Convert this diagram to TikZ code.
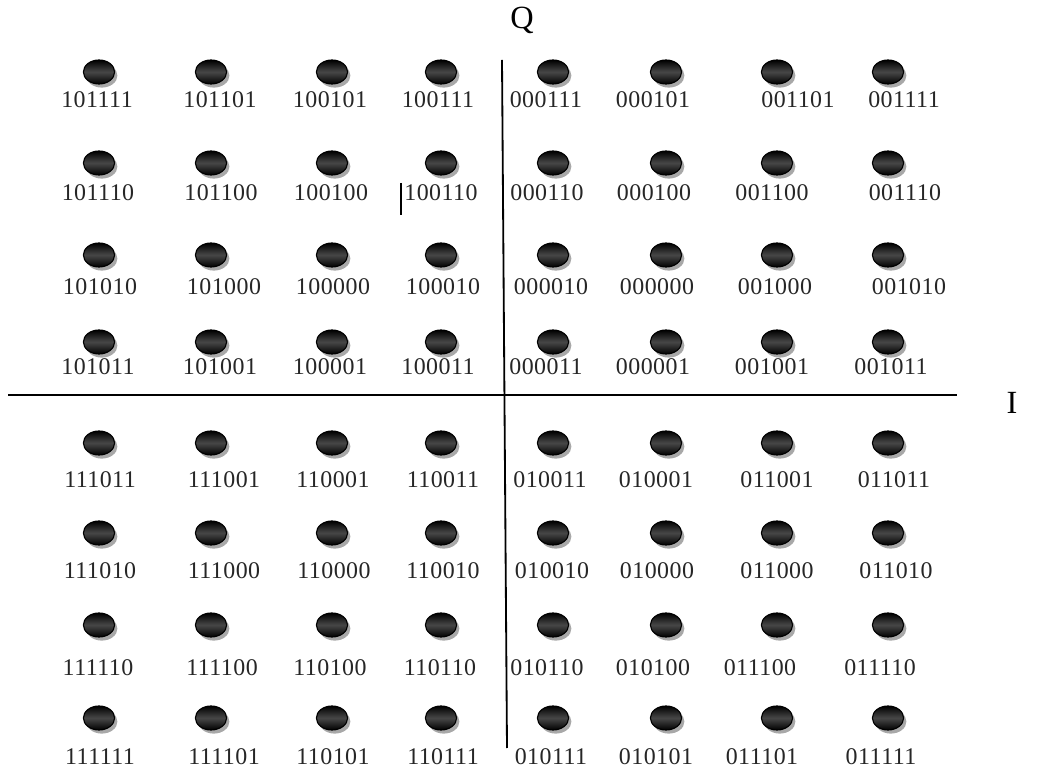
\documentclass[tikz,border=0pt]{standalone}
\usepackage{fontspec}
\setmainfont{Liberation Serif}
\newfontfamily\bitfont[LetterSpace=2]{Liberation Serif}
\usetikzlibrary{shapes.geometric, shadows}

\begin{document}
\begin{tikzpicture}[
  x=0.025cm, y=-0.025cm,
  symbol/.style={ellipse, draw=black, line width=0.8pt, inner sep=0pt,
                 minimum width=0.78cm, minimum height=0.6cm,
                 top color=black, bottom color=black, middle color=black!72,
                 drop shadow={shadow xshift=0.07cm, shadow yshift=-0.09cm, fill=gray!80, opacity=0.85}},
  bits/.style={font=\bitfont\fontsize{17}{18}\selectfont, inner sep=0pt, text=black!85},
  axis/.style={line width=1.3pt},
  axislabel/.style={font=\fontsize{23}{24}\selectfont, inner sep=0pt},
]
  \useasboundingbox (0,0) rectangle (1041,773);

  % axes
  \coordinate (qtop) at (502,60);
  \coordinate (qbot) at (507,748);
  \coordinate (ileft) at (8,395);
  \coordinate (iright) at (957,395);
  \draw[axis] (qtop) -- (qbot);
  \draw[axis] (ileft) -- (iright);
  \node[axislabel] (qlab) at (522,20) {Q};
  \node[axislabel] (ilab) at (1012,403) {I};

  % constellation points
  \foreach \dy [count=\r] in {72,163,255,342,443,533,625,718}
    \foreach \dx [count=\c] in {99,211,332,441,553,666,777,888}
      \node[symbol] (d\r-\c) at (\dx,\dy) {};

  % bit labels, row by row
  \foreach \b/\lx [count=\c] in {101111/97,101101/220,100101/330,100111/438,000111/546,000101/653,001101/798,001111/904}
    \node[bits] (l1-\c) at (\lx,100) {\b};
  \foreach \b/\lx [count=\c] in {101110/98,101100/221,100100/331,100110/441,000110/547,000100/654,001100/772,001110/905}
    \node[bits] (l2-\c) at (\lx,193) {\b};
  \foreach \b/\lx [count=\c] in {101010/100,101000/224,100000/333,100010/443,000010/551,000000/657,001000/775,001010/909}
    \node[bits] (l3-\c) at (\lx,287) {\b};
  \foreach \b/\lx [count=\c] in {101011/98,101001/220,100001/330,100011/438,000011/546,000001/653,001001/772,001011/891}
    \node[bits] (l4-\c) at (\lx,367) {\b};
  \foreach \b/\lx [count=\c] in {111011/100,111001/224,110001/333,110011/443,010011/550,010001/656,011001/777,011011/894}
    \node[bits] (l5-\c) at (\lx,480) {\b};
  \foreach \b/\lx [count=\c] in {111010/100,111000/224,110000/334,110010/443,010010/552,010000/657,011000/777,011010/896}
    \node[bits] (l6-\c) at (\lx,571) {\b};
  \foreach \b/\lx [count=\c] in {111110/98,111100/222,110100/330,110110/440,010110/547,010100/653,011100/760,011110/880}
    \node[bits] (l7-\c) at (\lx,668) {\b};
  \foreach \b/\lx [count=\c] in {111111/100,111101/224,110101/333,110111/443,010111/551,010101/656,011101/762,011111/881}
    \node[bits] (l8-\c) at (\lx,757) {\b};

  % stray mark before 100110
  \coordinate (marktop) at (401,183);
  \coordinate (markbot) at (401,215);
  \draw[line width=0.9pt] (marktop) -- (markbot);
\end{tikzpicture}
\end{document}
